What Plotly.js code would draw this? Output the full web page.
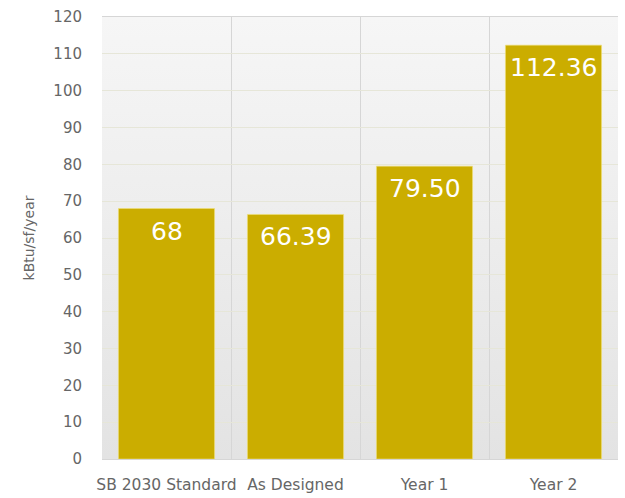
<!DOCTYPE html>
<html>
<head>
<meta charset="utf-8">
<script src="https://cdn.plot.ly/plotly-3.0.1.min.js"></script>
<style>html,body{margin:0;padding:0;background:#fff;}#chart{width:625px;height:498px;}</style>
</head>
<body>
<div id="chart"></div>
<script>
const categories = ["SB 2030 Standard", "As Designed", "Year 1", "Year 2"];
const values = [68, 66.39, 79.50, 112.36];
const valueLabels = ["68", "66.39", "79.50", "112.36"];
const yTickVals = [0, 10, 20, 30, 40, 50, 60, 70, 80, 90, 100, 110, 120];

const bgSvg = '<svg xmlns="http://www.w3.org/2000/svg" width="10" height="100" preserveAspectRatio="none">' +
  '<defs><linearGradient id="g" x1="0" y1="0" x2="0" y2="1">' +
  '<stop offset="0" stop-color="#f6f6f6"/><stop offset="1" stop-color="#e3e3e3"/></linearGradient></defs>' +
  '<rect width="10" height="100" fill="url(#g)"/></svg>';
const bgUri = 'data:image/svg+xml;base64,' + btoa(bgSvg);

const trace = {
  type: 'bar',
  x: categories,
  y: values,
  marker: { color: '#cbad00', line: { color: 'rgba(240,225,120,0.6)', width: 1 } },
  hoverinfo: 'x+y'
};

const annotations = categories.map((c, i) => ({
  x: c, y: values[i], xref: 'x', yref: 'y',
  text: valueLabels[i], showarrow: false,
  yanchor: 'top', yshift: -6,
  font: { family: 'DejaVu Sans, Verdana, sans-serif', size: 25, color: '#ffffff' }
}));

const layout = {
  width: 625, height: 498,
  margin: { l: 102, r: 7, t: 17, b: 39 },
  paper_bgcolor: '#ffffff',
  plot_bgcolor: 'rgba(0,0,0,0)',
  bargap: 0.255,
  showlegend: false,
  font: { family: 'DejaVu Sans, Verdana, sans-serif', color: '#666666' },
  images: [{
    source: bgUri, xref: 'paper', yref: 'paper', x: 0, y: 1,
    sizex: 1, sizey: 1, sizing: 'stretch', layer: 'below', xanchor: 'left', yanchor: 'top'
  }],
  xaxis: {
    type: 'category',
    tickson: 'boundaries',
    tickangle: 0,
    showgrid: true, gridcolor: '#d6d6d6', gridwidth: 1,
    ticks: '', showline: true, linecolor: '#d6d6d6', mirror: true,
    tickfont: { size: 15.5, color: '#666666' },
    ticklabelstandoff: 11,
    zeroline: false
  },
  yaxis: {
    range: [0, 120],
    tickvals: yTickVals,
    showgrid: true, gridcolor: '#e6e6d8', gridwidth: 1,
    zeroline: false,
    showline: false,
    ticks: '',
    ticklabelstandoff: 19,
    tickfont: { size: 15, color: '#666666' },
    title: { text: 'kBtu/sf/year', font: { size: 14, color: '#666666' }, standoff: 15 }
  },
  annotations: annotations
};

Plotly.newPlot('chart', [trace], layout, { displayModeBar: false, staticPlot: true });
</script>
</body>
</html>
